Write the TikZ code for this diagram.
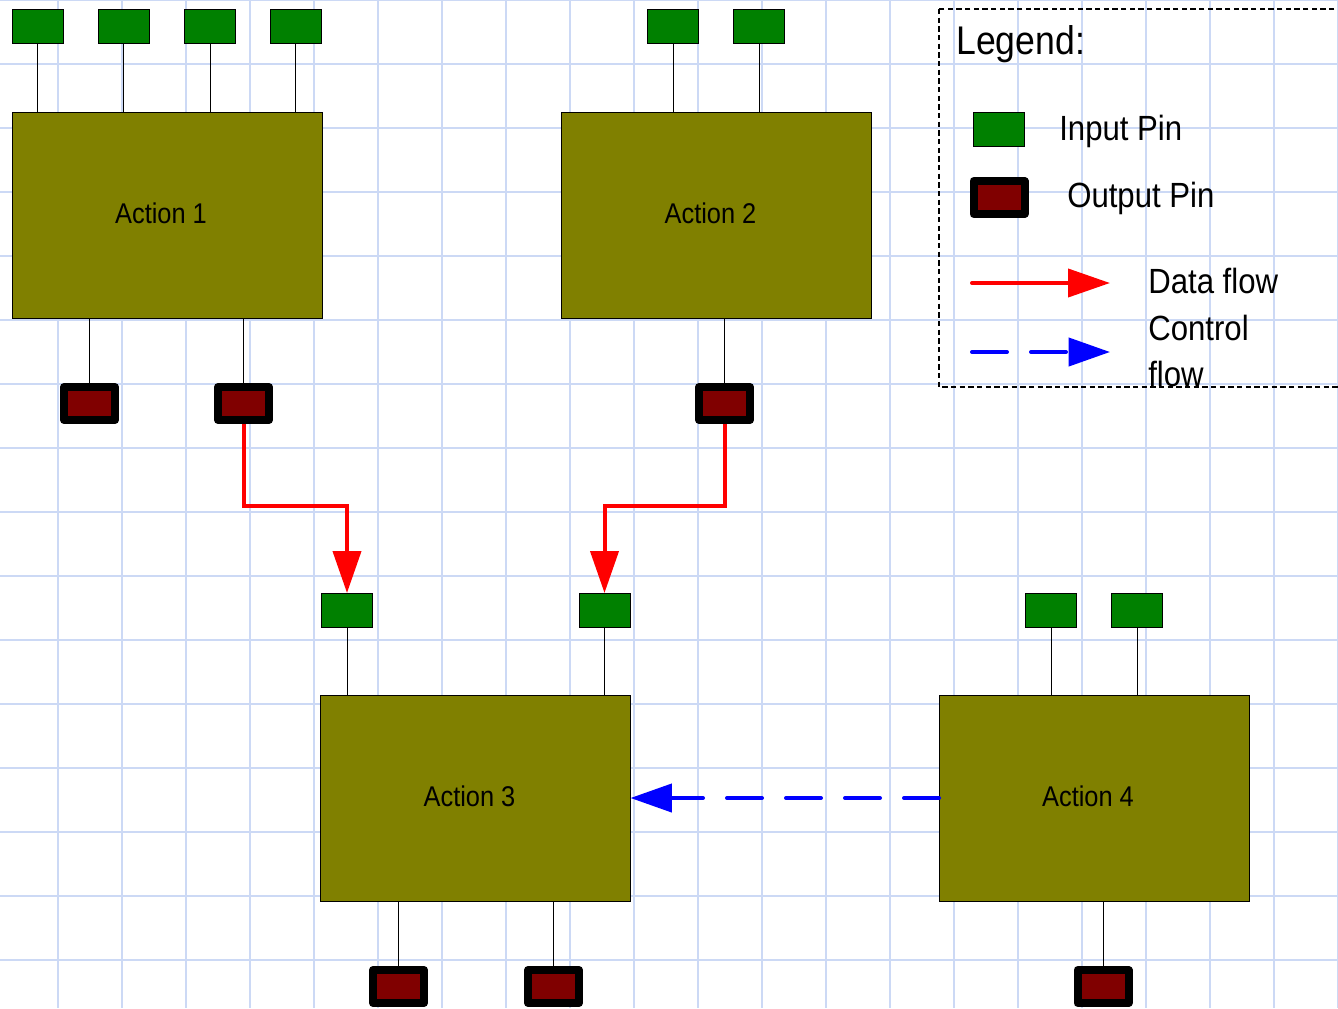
\documentclass[tikz,border=0pt]{standalone}
\usepackage{fontspec}
\setmainfont{Liberation Sans}[FakeStretch=0.89]
\usetikzlibrary{arrows.meta}
\definecolor{gridc}{RGB}{204,217,245}
\definecolor{olivec}{RGB}{128,128,0}
\definecolor{pingreen}{RGB}{0,128,0}
\definecolor{pinred}{RGB}{128,0,0}
\begin{document}
\begin{tikzpicture}[x=0.75pt,y=-0.75pt,
  gridline/.style={draw=gridc, line width=1.5pt},
  action/.style={draw=black, line width=0.75pt, fill=olivec, minimum width=232.5pt, minimum height=154.5pt, inner sep=0pt, outer sep=0pt},
  actlbl/.style={inner sep=0pt, font=\fontsize{21.4pt}{25pt}\selectfont},
  inpin/.style={draw=black, line width=0.75pt, fill=pingreen, minimum width=38.25pt, minimum height=25.5pt, inner sep=0pt, outer sep=0pt},
  outpin/.style={draw=black, line width=6pt, line join=round, fill=pinred, minimum width=38.25pt, minimum height=24.75pt, inner sep=0pt},
  wire/.style={draw=black, line width=0.75pt},
  dataflow/.style={draw=red, line width=3pt, -{Triangle[length=31.5pt,width=21pt]}},
  ctrlflow/.style={draw=blue, line width=3pt, line cap=round, dash pattern=on 26.25pt off 18pt, -{Triangle[length=31pt,width=21pt]}},
  legendbox/.style={draw=black, line width=1.5pt, dash pattern=on 4pt off 2.5pt},
  legtitle/.style={inner sep=0pt, anchor=base west, font=\fontsize{30pt}{36pt}\selectfont},
  legitem/.style={inner sep=0pt, anchor=base west, font=\fontsize{26.25pt}{31pt}\selectfont}
]
\useasboundingbox (0,0) rectangle (1338,1008);
\clip (0,0) rectangle (1338,1008);
\fill[white] (0,0) rectangle (1338,1008);
% grid
\foreach \x in {58,122,...,1338} \draw[gridline] (\x,0) -- (\x,1008);
\foreach \y in {0,64,...,960} \draw[gridline] (0,\y) -- (1338,\y);

% actions
\node[action] (a1) at (167,215) {};
\node[action] (a2) at (716.5,215) {};
\node[action] (a3) at (475.5,798) {};
\node[action] (a4) at (1094,798) {};
\node[actlbl] (t1) at ([xshift=-4.5pt,yshift=1.5pt]a1.center) {Action 1};
\node[actlbl] (t2) at ([xshift=-4.5pt,yshift=1.5pt]a2.center) {Action 2};
\node[actlbl] (t3) at ([xshift=-4.5pt,yshift=1.5pt]a3.center) {Action 3};
\node[actlbl] (t4) at ([xshift=-4.5pt,yshift=1.5pt]a4.center) {Action 4};

% input pins
\node[inpin] (i11) at (37.5,26) {};
\node[inpin] (i12) at (123.5,26) {};
\node[inpin] (i13) at (210,26) {};
\node[inpin] (i14) at (295.5,26) {};
\node[inpin] (i21) at (673,26) {};
\node[inpin] (i22) at (759,26) {};
\node[inpin] (i31) at (347,610) {};
\node[inpin] (i32) at (604.5,610) {};
\node[inpin] (i41) at (1051,610) {};
\node[inpin] (i42) at (1137,610) {};
\foreach \p/\a in {i11/a1,i12/a1,i13/a1,i14/a1,i21/a2,i22/a2,i31/a3,i32/a3,i41/a4,i42/a4}
  \draw[wire] (\p.south) -- (\p.south |- \a.north);

% output pins
\node[outpin] (o11) at (89.5,403.5) {};
\node[outpin] (o12) at (243.5,403.5) {};
\node[outpin] (o21) at (724.5,403.5) {};
\node[outpin] (o31) at (398.5,986.5) {};
\node[outpin] (o32) at (553.5,986.5) {};
\node[outpin] (o41) at (1103,986.5) {};
\foreach \p/\a in {o11/a1,o12/a1,o21/a2,o31/a3,o32/a3,o41/a4}
  \draw[wire] (\a.south -| \p.north) -- (\p.north);

% flows
\coordinate (mid) at (0,506);
\draw[dataflow] (o12.south) -- (o12.south |- mid) -- (i31.north |- mid) -- (i31.north);
\draw[dataflow] (o21.south) -- (o21.south |- mid) -- (i32.north |- mid) -- (i32.north);
\draw[ctrlflow] (a4.west) -- (a3.east);

% legend
\draw[legendbox] (939,9) rectangle (1400,387);
\node[legtitle] (lt) at (956,54) {Legend:};
\node[inpin] (lin) at (999,129) {};
\node[outpin] (lout) at (999,197.5) {};
\node[legitem] (lint) at (1059,140) {Input Pin};
\node[legitem] (loutt) at (1067,207) {Output Pin};
\coordinate (ld1) at (972,283);
\coordinate (ld2) at (1110,283);
\coordinate (lc1) at (972,352);
\coordinate (lc2) at (1110,352);
\draw[dataflow, line cap=round] (ld1) -- (ld2);
\draw[ctrlflow] (lc1) -- (lc2);
\node[legitem] (ldt) at (1148,293) {Data flow};
\node[legitem] (lct) at (1148,340) {Control};
\node[legitem] (lft) at (1148,386) {flow};
\end{tikzpicture}
\end{document}
